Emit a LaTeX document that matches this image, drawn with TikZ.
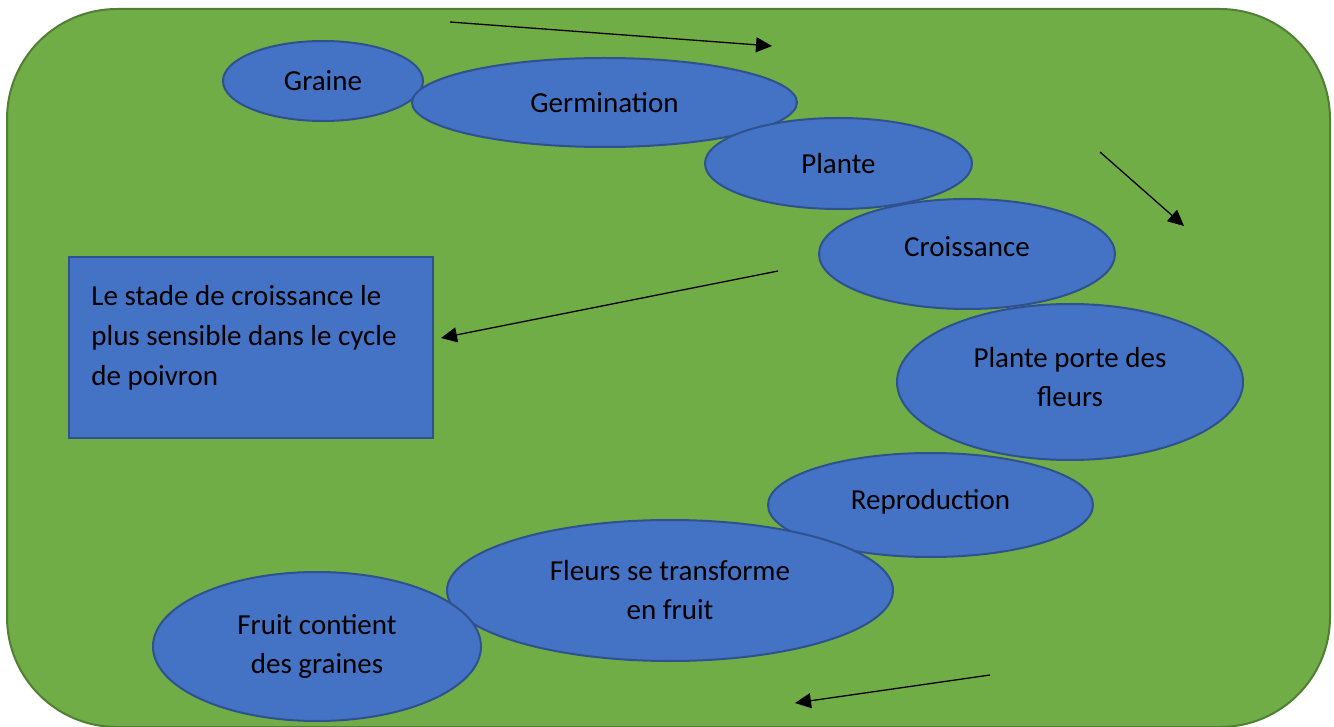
\documentclass[tikz,border=0pt]{standalone}
\usepackage{fontspec}
\setmainfont{Carlito}
\usetikzlibrary{shapes.geometric,arrows.meta}
\definecolor{bggreen}{HTML}{70AD47}
\definecolor{bgedge}{HTML}{507E32}
\definecolor{stageblue}{HTML}{4472C4}
\definecolor{stageedge}{HTML}{2F528F}
\begin{document}
\begin{tikzpicture}[x=0.5pt,y=-0.5pt,
  stage/.style={ellipse,draw=stageedge,line width=1pt,fill=stageblue,inner sep=0pt,align=center,font=\fontsize{14.5}{19.5}\selectfont},
  flow/.style={-{Triangle[length=8pt,width=7.5pt]},line width=0.65pt}]
  \useasboundingbox (0,0) rectangle (1334,727);
  \draw[fill=bggreen,draw=bgedge,line width=1pt,rounded corners=55pt] (7,9) rectangle (1330,727);
  \node[stage,minimum width=100pt,minimum height=40pt] (graine) at (323,81) {Graine};
  \node[stage,minimum width=192.5pt,minimum height=44.5pt] (germination) at (604.5,102.5) {Germination};
  \node[stage,minimum width=133.5pt,minimum height=45.5pt] (plante) at (838.5,163.5) {Plante};
  \node[stage,minimum width=148pt,minimum height=55pt,text depth=7pt] (croissance) at (967,254) {Croissance};
  \node[stage,minimum width=173pt,minimum height=78pt,text depth=5pt] (fleurs) at (1070,382) {Plante porte des\\fleurs};
  \node[stage,minimum width=162.5pt,minimum height=52pt,text depth=6pt] (reproduction) at (930.5,505) {Reproduction};
  \node[stage,minimum width=223pt,minimum height=70.5pt] (transforme) at (670,590.5) {Fleurs se transforme\\en fruit};
  \node[stage,minimum width=164pt,minimum height=74.5pt] (fruit) at (317,646.5) {Fruit contient\\des graines};
  \node[draw=stageedge,line width=1pt,fill=stageblue,minimum width=182pt,minimum height=90.5pt] (stade) at (251,347.5) {};
  \node[anchor=base west,inner sep=0pt,align=left,font=\fontsize{14.5}{20}\selectfont] (stadetext) at (91,386) {Le stade de croissance le\\plus sensible dans le cycle\\de poivron};
  \coordinate (hautdebut) at (450,22);
  \coordinate (hautfin) at (772,46);
  \coordinate (droitedebut) at (1100,152);
  \coordinate (droitefin) at (1184,226);
  \coordinate (stadedebut) at (778,271);
  \coordinate (stadefin) at (441,338);
  \coordinate (basdebut) at (990,675);
  \coordinate (basfin) at (795,703);
  \draw[flow] (hautdebut) -- (hautfin);
  \draw[flow] (droitedebut) -- (droitefin);
  \draw[flow] (stadedebut) -- (stadefin);
  \draw[flow] (basdebut) -- (basfin);
\end{tikzpicture}
\end{document}
